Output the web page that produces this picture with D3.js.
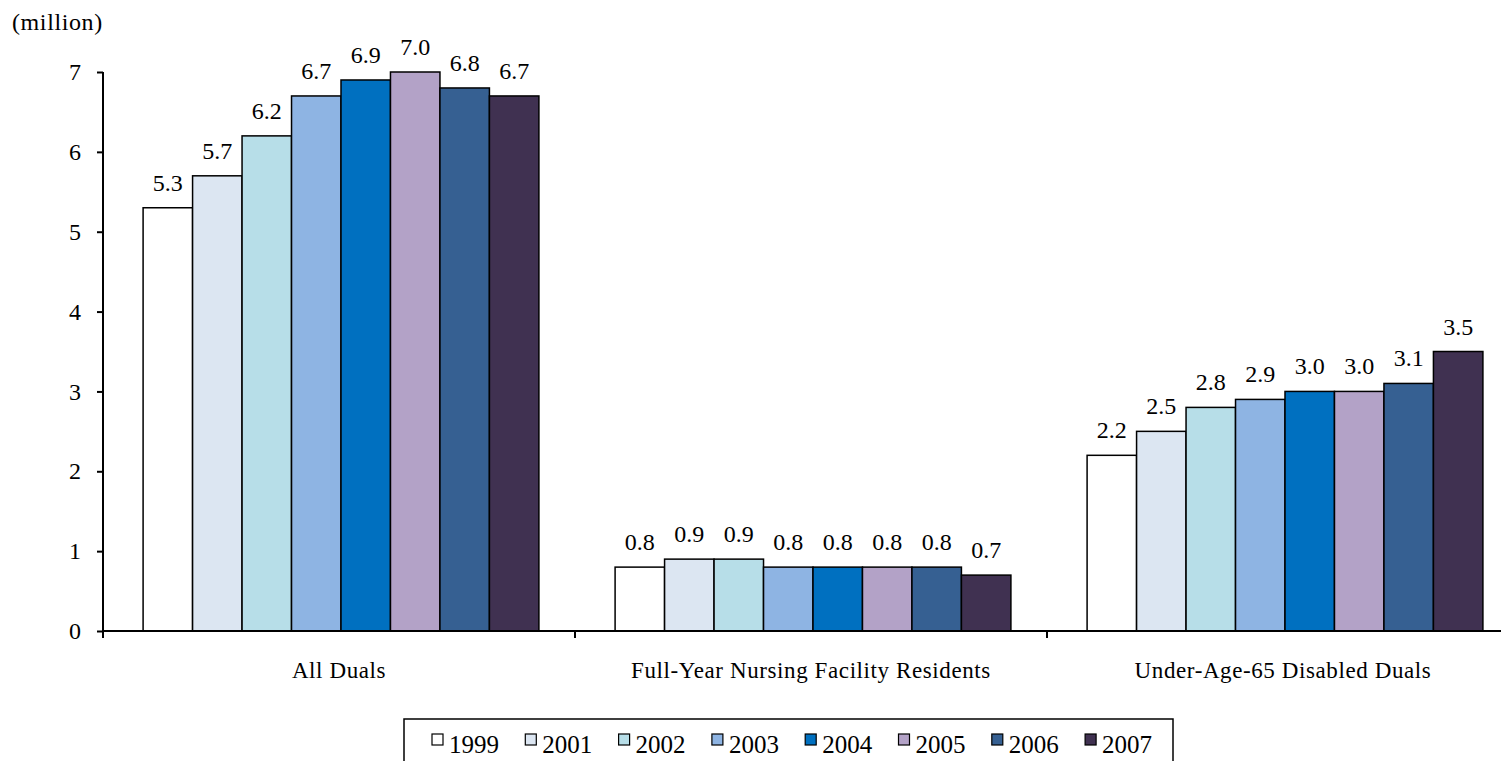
<!DOCTYPE html>
<html>
<head>
<meta charset="utf-8">
<script src="https://cdn.jsdelivr.net/npm/d3@7"></script>
<style>
  html, body { margin: 0; padding: 0; background: #fff; }
  svg { display: block; }
  svg text { font-family: "Liberation Serif", "Times New Roman", serif; }
</style>
</head>
<body>
<div id="chart"></div>
<script>
// дані
const categories = ["All Duals", "Full-Year Nursing Facility Residents", "Under-Age-65 Disabled Duals"];
const years = ["1999", "2001", "2002", "2003", "2004", "2005", "2006", "2007"];
const allDuals = [5.3, 5.7, 6.2, 6.7, 6.9, 7.0, 6.8, 6.7];
const nursing = [0.8, 0.9, 0.9, 0.8, 0.8, 0.8, 0.8, 0.7];
const disabled = [2.2, 2.5, 2.8, 2.9, 3.0, 3.0, 3.1, 3.5];
const yTicks = [0, 1, 2, 3, 4, 5, 6, 7];
const yearColors = ["#ffffff", "#dce6f2", "#b7dee8", "#8eb4e3", "#0070c0", "#b3a2c7", "#366092", "#403151"];

const seriesByCat = [allDuals, nursing, disabled];

const width = 1501, height = 761;

const svg = d3.select("#chart").append("svg")
    .attr("width", width)
    .attr("height", height);

const x0 = d3.scaleBand()
    .domain(categories)
    .range([103, 103 + 3 * 472])
    .padding(0);

const x1 = d3.scaleBand()
    .domain(years)
    .range([0, x0.bandwidth()])
    .paddingInner(0)
    .paddingOuter(0.77);

const y = d3.scaleLinear()
    .domain([0, 7])
    .range([631, 72]);

const color = d3.scaleOrdinal().domain(years).range(yearColors);

// підпис одиниць
svg.append("text")
    .attr("x", 12).attr("y", 30)
    .style("font-size", "24px")
    .style("letter-spacing", "0.6px")
    .text("(million)");

// стовпчики
const groups = svg.selectAll("g.grp")
    .data(categories.map((c, i) => ({ cat: c, vals: seriesByCat[i] })))
    .join("g")
    .attr("class", "grp")
    .attr("transform", d => `translate(${x0(d.cat) + 2},0)`);

groups.selectAll("rect")
    .data(d => d.vals.map((v, j) => ({ year: years[j], value: v })))
    .join("rect")
    .attr("x", d => x1(d.year))
    .attr("y", d => y(d.value))
    .attr("width", x1.bandwidth())
    .attr("height", d => y(0) - y(d.value))
    .attr("fill", d => color(d.year))
    .attr("stroke", "#000")
    .attr("stroke-width", 1.5);

groups.selectAll("text.val")
    .data(d => d.vals.map((v, j) => ({ year: years[j], value: v })))
    .join("text")
    .attr("class", "val")
    .attr("x", d => x1(d.year) + x1.bandwidth() / 2)
    .attr("y", d => y(d.value) - 17)
    .attr("text-anchor", "middle")
    .style("font-size", "24px")
    .text(d => d.value.toFixed(1));

// вісь Y
const yAxis = svg.append("g")
    .attr("transform", "translate(103,0)")
    .call(d3.axisLeft(y).tickValues(yTicks).tickSize(6).tickPadding(16).tickFormat(d3.format("d")));
yAxis.attr("font-family", null);
yAxis.select(".domain").attr("stroke", "#000").attr("stroke-width", 2).attr("d", `M0,${y(7)}V${y(0)}`);
yAxis.selectAll(".tick line").attr("stroke", "#000").attr("stroke-width", 2);
yAxis.selectAll(".tick text")
    .style("font-size", "24px").attr("fill", "#000");

// вісь X
const xAxis = svg.append("g");
xAxis.append("line")
    .attr("x1", x0.range()[0]).attr("x2", x0.range()[1])
    .attr("y1", y(0)).attr("y2", y(0))
    .attr("stroke", "#000").attr("stroke-width", 2);
xAxis.selectAll("line.tk")
    .data(categories.map(c => x0(c)).concat([x0.range()[1]]))
    .join("line")
    .attr("class", "tk")
    .attr("x1", d => d).attr("x2", d => d)
    .attr("y1", y(0)).attr("y2", y(0) + 7)
    .attr("stroke", "#000").attr("stroke-width", 2);
xAxis.selectAll("text")
    .data(categories)
    .join("text")
    .attr("x", d => x0(d) + x0.bandwidth() / 2)
    .attr("y", 678)
    .attr("text-anchor", "middle")
    .style("font-size", "23px")
    .style("letter-spacing", "0.6px")
    .text(d => d);

// легенда
const legend = svg.append("g");
legend.append("rect")
    .attr("x", 404).attr("y", 719)
    .attr("width", 769).attr("height", 60)
    .attr("fill", "#fff").attr("stroke", "#000").attr("stroke-width", 1.5);

const item = legend.selectAll("g.item")
    .data(years)
    .join("g")
    .attr("class", "item")
    .attr("transform", (d, i) => `translate(${432 + i * 93.3},0)`);
item.append("rect")
    .attr("x", 0).attr("y", 734)
    .attr("width", 11).attr("height", 11)
    .attr("fill", d => color(d))
    .attr("stroke", "#000").attr("stroke-width", 1.2);
item.append("text")
    .attr("x", 17).attr("y", 753)
    .style("font-size", "25px")
    .text(d => d);
</script>
</body>
</html>
